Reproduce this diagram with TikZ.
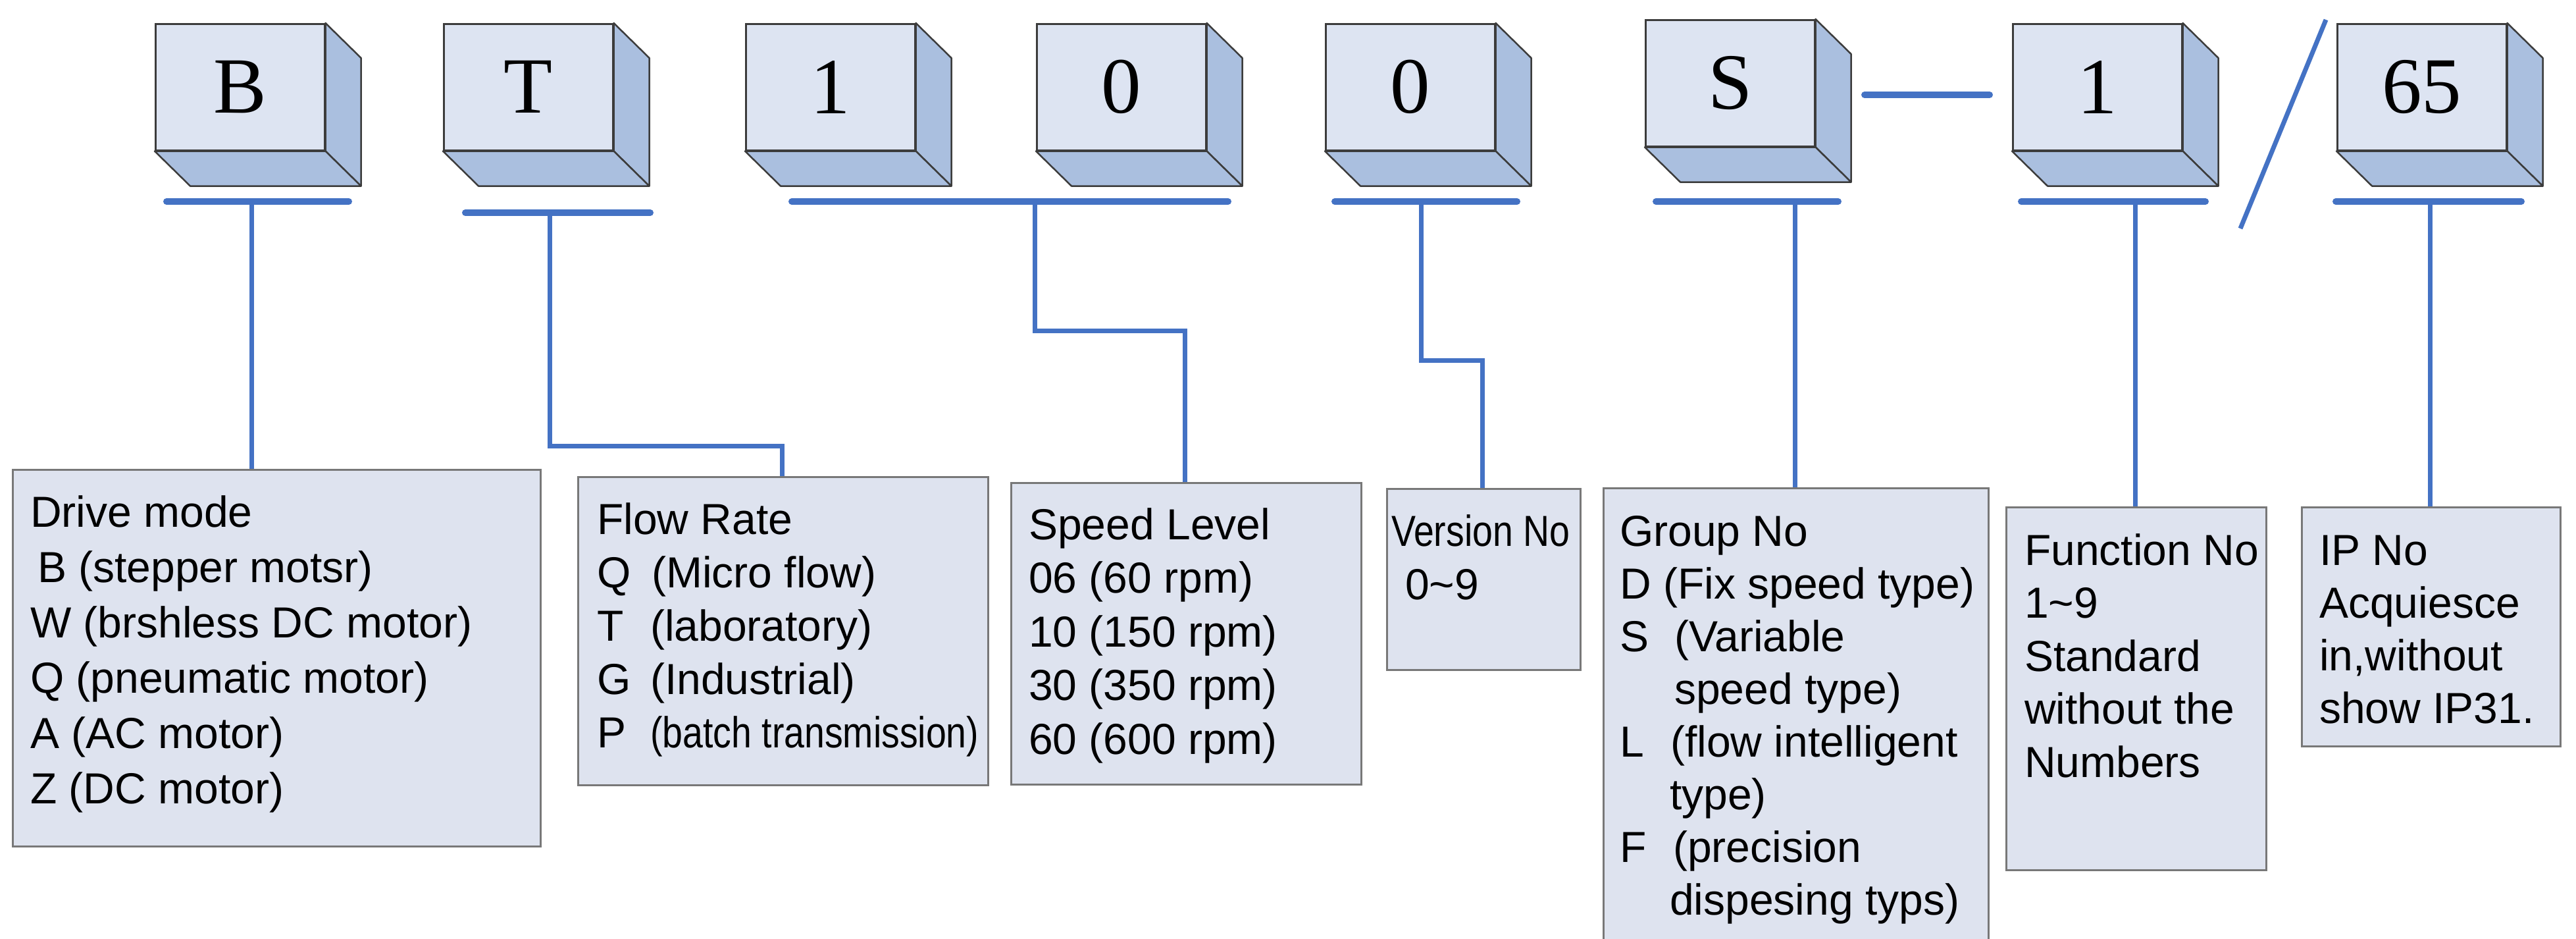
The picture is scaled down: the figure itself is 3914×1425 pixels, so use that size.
\documentclass[tikz,border=0pt]{standalone}
\usepackage{fontspec}
\usepackage{graphicx}
\setmainfont{Liberation Sans}
\newfontfamily\cubefont{Liberation Serif}
\usetikzlibrary{calc}
\definecolor{lineblue}{RGB}{68,114,196}
\definecolor{cubefront}{RGB}{221,228,242}
\definecolor{cubeside}{RGB}{170,191,223}
\definecolor{edgegray}{RGB}{60,60,60}
\definecolor{boxfill}{RGB}{222,227,239}
\definecolor{boxgray}{RGB}{120,120,120}
\tikzset{
  conn/.style={line width=7pt, draw=lineblue},
  uline/.style={line width=10pt, draw=lineblue, line cap=round},
  front/.style={draw=edgegray, line width=2.5pt, fill=cubefront, minimum width=257pt, minimum height=192pt, inner sep=0pt, font=\cubefont\fontsize{121}{121}\selectfont},
  cubeface/.style={draw=edgegray, line width=2.5pt, fill=cubeside, line join=round},
  tbox/.style={draw=boxgray, line width=3pt, fill=boxfill, inner sep=0pt, anchor=north west},
  txt/.style={anchor=base west, align=left, inner sep=0pt, font=\fontsize{66}{#1}\selectfont},
}
\newcommand{\mycube}[4]{%
  \node[front, anchor=north west] (#1) at (#2,#3) {#4};
  \filldraw[cubeface] (#1.north east) -- ++(54,53) -- ($(#1.south east)+(54pt,-53pt)$) -- (#1.south east) -- cycle;
  \filldraw[cubeface] (#1.south west) -- (#1.south east) -- ++(54,53) -- ($(#1.south west)+(54pt,-53pt)$) -- cycle;
}
\begin{document}
\begin{tikzpicture}[x=1pt,y=-1pt]
\useasboundingbox (0,0) rectangle (3914,1425);
\clip (0,0) rectangle (3914,1425);
\fill[white] (0,0) rectangle (3914,1425);

% cubes
\mycube{cB}{235}{35}{B}
\mycube{cT}{673}{35}{T}
\mycube{cOne}{1132}{35}{1}
\mycube{cZa}{1574}{35}{0}
\mycube{cZb}{2013}{35}{0}
\mycube{cS}{2499}{29}{S}
\mycube{cFn}{3057}{35}{1}
\mycube{cIP}{3550}{35}{65}

% underlines
\draw[uline] (253,306) -- (530,306);
\draw[uline] (707,323) -- (988,323);
\draw[uline] (1203,306) -- (1866,306);
\draw[uline] (2028,306) -- (2305,306);
\draw[uline] (2516,306) -- (2793,306);
\draw[uline] (3071,306) -- (3351,306);
\draw[uline] (3549,306) -- (3831,306);

% dash and slash
\draw[uline] (2833,144) -- (3023,144);
\draw[line width=7pt, draw=lineblue] (3534,30) -- (3404,347);

% text boxes
\node[tbox, minimum width=802pt, minimum height=572pt] (drive) at (18,712) {};
\node[tbox, minimum width=623pt, minimum height=468pt] (flow) at (877,723) {};
\node[tbox, minimum width=532pt, minimum height=458pt] (speed) at (1535,732) {};
\node[tbox, minimum width=294pt, minimum height=275pt] (version) at (2106,741) {};
\node[tbox, minimum width=585pt, minimum height=740pt] (group) at (2435,740) {};
\node[tbox, minimum width=395pt, minimum height=551pt] (func) at (3047,769) {};
\node[tbox, minimum width=393pt, minimum height=363pt] (ipno) at (3496,769) {};

% texts (base anchor = baseline of the last line)
\node[txt=84] (driveT) at (46,1220) {Drive mode\\\hspace*{11pt}B (stepper motsr)\\W (brshless DC motor)\\Q (pneumatic motor)\\A (AC motor)\\Z (DC motor)};
\node[txt=81] (flowT) at (907,1135) {Flow Rate\\\makebox[83pt][l]{Q}(Micro flow)\\\makebox[81pt][l]{T}(laboratory)\\\makebox[81pt][l]{G}(Industrial)\\\makebox[81pt][l]{P}\scalebox{0.84}[1]{(batch transmission)}};
\node[txt=81.5] (speedT) at (1563,1145) {Speed Level\\06 (60 rpm)\\10 (150 rpm)\\30 (350 rpm)\\60 (600 rpm)};
\node[txt=81] (versionT) at (2114,910) {\scalebox{0.84}[1]{Version No}\\\hspace*{21pt}0\textasciitilde 9};
\node[txt=80] (groupT) at (2461,1389) {Group No\\D (Fix speed type)\\\makebox[83pt][l]{S}(Variable\\\hspace*{83pt}speed type)\\\makebox[77pt][l]{L}(flow intelligent\\\hspace*{76pt}type)\\\makebox[81pt][l]{F}(precision\\\hspace*{76pt}dispesing typs)};
\node[txt=80.5] (funcT) at (3076,1180) {Function No\\1\textasciitilde 9\\Standard\\without the\\Numbers};
\node[txt=80] (ipT) at (3524,1098) {IP No\\Acquiesce\\in,without\\show IP31.};

% connectors
\coordinate (jB) at (382,306);
\draw[conn] (jB) -- (jB |- drive.north);
\coordinate (jT) at (835,323);
\coordinate (kT) at (1188,677);
\draw[conn] (jT) |- (kT) -- (kT |- flow.north);
\coordinate (jS) at (1572,306);
\coordinate (kS) at (1800,502);
\draw[conn] (jS) |- (kS) -- (kS |- speed.north);
\coordinate (jV) at (2159,306);
\coordinate (kV) at (2252,547);
\draw[conn] (jV) |- (kV) -- (kV |- version.north);
\coordinate (jG) at (2727,306);
\draw[conn] (jG) -- (jG |- group.north);
\coordinate (jF) at (3244,306);
\draw[conn] (jF) -- (jF |- func.north);
\coordinate (jI) at (3692,306);
\draw[conn] (jI) -- (jI |- ipno.north);
\end{tikzpicture}
\end{document}
